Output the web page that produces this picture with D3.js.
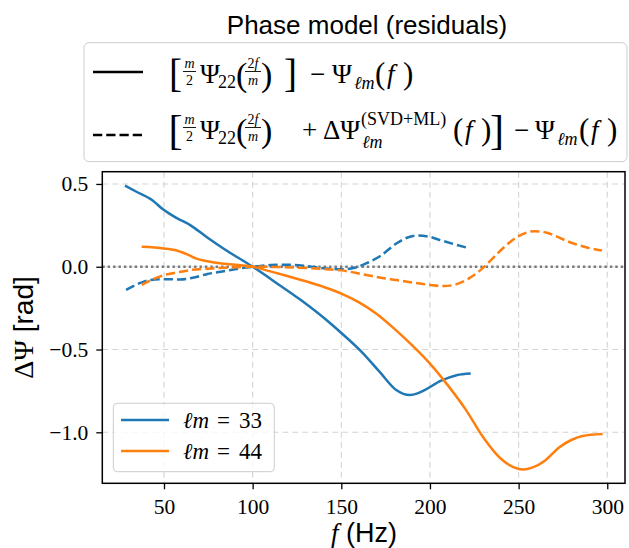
<!DOCTYPE html>
<html><head><meta charset="utf-8">
<script src="https://cdn.jsdelivr.net/npm/d3@7"></script>
<style>body{margin:0;background:#fff}svg{display:block}</style>
</head><body>
<svg id="c" width="629" height="548"></svg>
<script>
// ---- data ----
const xTicks = [50, 100, 150, 200, 250, 300];
const yTicks = [0.5, 0.0, -0.5, -1.0];
const modeLabels = ["33", "44"];
const modeColors = ["#1f77b4", "#ff7f0e"];

const f33Solid = [28, 35, 43.6, 49.6, 57, 65, 74, 85, 100, 115, 127, 143.6, 150, 162, 172, 181, 185, 188.7, 193, 197, 206, 215, 223];
const v33Solid = [0.49, 0.45, 0.40, 0.345, 0.295, 0.25, 0.18, 0.10, 0.0, -0.11, -0.20, -0.34, -0.40, -0.52, -0.64, -0.745, -0.768, -0.775, -0.765, -0.745, -0.69, -0.655, -0.645];

const f44Solid = [37.4, 50, 58, 64, 68, 76, 87, 100, 110, 120, 130, 140, 150, 160, 170, 180, 190, 200, 210, 220, 230, 240, 247, 252.6, 258, 265, 273, 280, 286, 297.4];
const v44Solid = [0.12, 0.11, 0.095, 0.07, 0.05, 0.03, 0.015, 0.0, -0.028, -0.057, -0.088, -0.122, -0.162, -0.215, -0.285, -0.375, -0.475, -0.585, -0.715, -0.86, -1.03, -1.16, -1.21, -1.225, -1.212, -1.17, -1.09, -1.045, -1.022, -1.01];

const f33Dash = [28.6, 35, 42, 50, 59, 67, 74, 82, 90, 100, 110, 120, 130, 143, 152, 158, 164, 172, 181, 187, 193, 200, 206, 214, 221];
const v33Dash = [-0.14, -0.105, -0.08, -0.075, -0.077, -0.065, -0.045, -0.03, -0.015, 0.0, 0.01, 0.012, 0.005, -0.012, -0.015, -0.005, 0.02, 0.065, 0.14, 0.175, 0.188, 0.18, 0.16, 0.135, 0.115];

const f44Dash = [37.4, 45, 50, 57, 65, 77, 88, 100, 115, 130, 143, 150, 162, 173, 181, 190, 200, 208, 215, 222, 228, 234, 241, 250, 259, 266, 272, 279, 288, 297];
const v44Dash = [-0.11, -0.07, -0.05, -0.035, -0.02, -0.01, -0.005, 0.0, -0.002, -0.008, -0.016, -0.022, -0.045, -0.068, -0.08, -0.095, -0.11, -0.117, -0.105, -0.07, -0.025, 0.035, 0.11, 0.185, 0.215, 0.205, 0.18, 0.148, 0.118, 0.098];

// ---- layout ----
const svg = d3.select("#c");
const L = 102.3, R = 625, T = 171.7, B = 483.3;
const x = d3.scaleLinear().domain([15.2, 310]).range([L, R]);
const y = d3.scaleLinear().domain([-1.308, 0.574]).range([B, T]);
const SERIF = "'Liberation Serif','DejaVu Serif',serif";
const SANS = "'Liberation Sans','DejaVu Sans',sans-serif";

// grid
const grid = svg.append("g");
grid.selectAll(".gx").data(xTicks).enter().append("line")
  .attr("x1", d => x(d)).attr("x2", d => x(d)).attr("y1", T).attr("y2", B)
  .attr("stroke", "#d4d4d4").attr("stroke-width", 1.1).attr("stroke-dasharray", "6,4");
grid.selectAll(".gy").data(yTicks).enter().append("line")
  .attr("x1", L).attr("x2", R).attr("y1", d => y(d)).attr("y2", d => y(d))
  .attr("stroke", "#d4d4d4").attr("stroke-width", 1.1).attr("stroke-dasharray", "6,4");

// zero line
svg.append("line").attr("x1", L).attr("x2", R).attr("y1", y(0)).attr("y2", y(0))
  .attr("stroke", "#7a7a7a").attr("stroke-width", 2.5).attr("stroke-dasharray", "2.4,3");

// data lines
const line = d3.line().x(d => x(d[0])).y(d => y(d[1])).curve(d3.curveMonotoneX);
const series = [
  {f: f33Solid, v: v33Solid, c: 0, dash: null},
  {f: f33Dash, v: v33Dash, c: 0, dash: "9.25,4"},
  {f: f44Solid, v: v44Solid, c: 1, dash: null},
  {f: f44Dash, v: v44Dash, c: 1, dash: "9.25,4"}
];
series.forEach(s => {
  svg.append("path").datum(d3.zip(s.f, s.v)).attr("d", line)
    .attr("fill", "none").attr("stroke", modeColors[s.c]).attr("stroke-width", 2.5)
    .attr("stroke-dasharray", s.dash).attr("stroke-linecap", "butt");
});

// axes
const fmt = d => d3.format(".1f")(d).replace("-", "\u2212");
const gx = svg.append("g").attr("transform", `translate(0,${B})`)
  .call(d3.axisBottom(x).tickValues(xTicks).tickSize(6).tickPadding(9).tickFormat(d3.format("d")));
const gy = svg.append("g").attr("transform", `translate(${L},0)`)
  .call(d3.axisLeft(y).tickValues(yTicks).tickSize(6).tickPadding(8).tickFormat(fmt));
[gx, gy].forEach(g => {
  g.select(".domain").remove();
  g.selectAll(".tick line").attr("stroke", "#000").attr("stroke-width", 1.3);
  g.selectAll(".tick text").attr("font-family", SERIF).attr("font-size", 21.5).attr("fill", "#000");
});
gx.selectAll(".tick text").attr("dy", "0.71em");
svg.append("rect").attr("x", L).attr("y", T).attr("width", R - L).attr("height", B - T)
  .attr("fill", "none").attr("stroke", "#000").attr("stroke-width", 1.5);

// axis labels
const xl = svg.append("text").attr("x", 364).attr("y", 542).attr("text-anchor", "middle").attr("font-size", 27);
xl.append("tspan").attr("font-family", SERIF).attr("font-style", "italic").text("f");
xl.append("tspan").attr("font-family", SANS).text(" (Hz)");
const yl = svg.append("text").attr("transform", "translate(33,327.5) rotate(-90)").attr("text-anchor", "middle").attr("font-size", 28);
yl.append("tspan").attr("font-family", SERIF).text("\u0394\u03A8");
yl.append("tspan").attr("font-family", SANS).text(" [rad]");

// title
svg.append("text").attr("x", 367).attr("y", 34).attr("text-anchor", "middle")
  .attr("font-family", SANS).attr("font-size", 26).text("Phase model (residuals)");

// top legend
svg.append("rect").attr("x", 84).attr("y", 42.7).attr("width", 543).attr("height", 119)
  .attr("rx", 5).attr("fill", "#fff").attr("fill-opacity", 0.8).attr("stroke", "#cccccc").attr("stroke-width", 1);
svg.append("line").attr("x1", 93).attr("x2", 143).attr("y1", 72).attr("y2", 72).attr("stroke", "#000").attr("stroke-width", 2.5);
svg.append("line").attr("x1", 93).attr("x2", 143).attr("y1", 135).attr("y2", 135).attr("stroke", "#000").attr("stroke-width", 2.5).attr("stroke-dasharray", "9.25,4");

const lg = svg.append("g").attr("font-family", SERIF).attr("fill", "#000");
function t(s, px, py, size, italic) {
  return lg.append("text").attr("x", px).attr("y", py).attr("font-size", size)
    .attr("font-style", italic ? "italic" : "normal").text(s);
}
function frac(num, numIt, den, denIt, cx, b, w) {
  const n = lg.append("text").attr("x", cx).attr("y", b - 15).attr("font-size", 14).attr("text-anchor", "middle");
  num.forEach((p, i) => n.append("tspan").attr("font-style", numIt[i] ? "italic" : "normal").text(p));
  const d = lg.append("text").attr("x", cx).attr("y", b + 2).attr("font-size", 14).attr("text-anchor", "middle");
  den.forEach((p, i) => d.append("tspan").attr("font-style", denIt[i] ? "italic" : "normal").text(p));
  lg.append("line").attr("x1", cx - w / 2).attr("x2", cx + w / 2).attr("y1", b - 11.5).attr("y2", b - 11.5)
    .attr("stroke", "#000").attr("stroke-width", 0.9);
}
function argF(x0, b) {
  t("(", x0, b + 1, 31);
  t("f", x0 + 12, b, 27, true);
  t(")", x0 + 28, b + 1, 31);
}
function common(b, bs, bb, bx) {
  t("[", bx, b + bb, bs);
  frac(["m"], [1], ["2"], [0], 189.5, b, 13);
  t("\u03A8", 200, b, 27);
  t("22", 218, b + 5, 18);
  t("(", 236, b + 2.5, 34);
  frac(["2", "f"], [0, 1], ["m"], [1], 253, b, 16);
  t(")", 261, b + 2.5, 34);
}
// row 1
const b1 = 83;
common(b1, 39, 3.8, 169);
t("]", 284, b1 + 3.8, 39);
t("\u2212", 310, b1, 27);
t("\u03A8", 332, b1, 27);
t("\u2113m", 354, b1 + 6, 18, true);
argF(375, b1);
// row 2
const b2 = 139;
common(b2, 42, 5, 168.5);
t("+", 302, b2, 27);
t("\u0394\u03A8", 323, b2, 27);
t("(SVD+ML)", 361, b2 - 14, 18);
t("\u2113m", 362, b2 + 9, 18, true);
argF(453, b2);
t("]", 490, b2 + 5, 42);
t("\u2212", 514, b2, 27);
t("\u03A8", 535, b2, 27);
t("\u2113m", 557, b2 + 6, 18, true);
argF(579, b2);

// inner legend
const il = svg.append("g");
il.append("rect").attr("x", 113.3).attr("y", 403.3).attr("width", 161).attr("height", 68.4)
  .attr("rx", 4).attr("fill", "#fff").attr("fill-opacity", 0.8).attr("stroke", "#cccccc").attr("stroke-width", 1);
modeLabels.forEach((lab, i) => {
  const yy = 420 + i * 31;
  il.append("line").attr("x1", 121).attr("x2", 169).attr("y1", yy).attr("y2", yy)
    .attr("stroke", modeColors[i]).attr("stroke-width", 2.5);
  const g = il.append("g").attr("font-family", SERIF).attr("font-size", 23);
  g.append("text").attr("x", 183).attr("y", yy + 8).attr("font-style", "italic").text("\u2113m");
  g.append("text").attr("x", 217).attr("y", yy + 8).text("=");
  g.append("text").attr("x", 239).attr("y", yy + 8).text(lab);
});
</script>
</body></html>
